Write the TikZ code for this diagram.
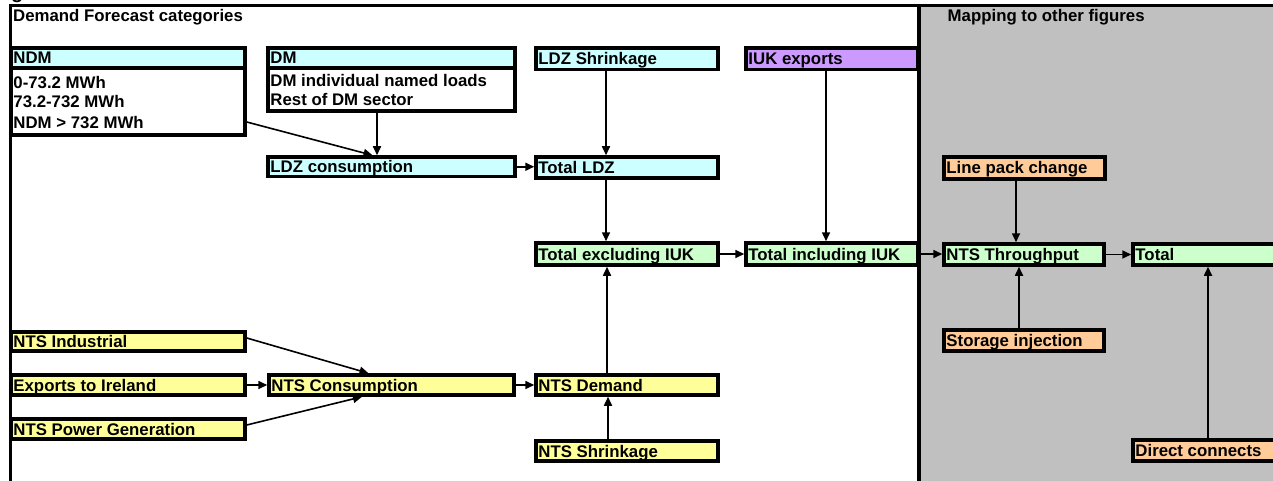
\documentclass[tikz,border=0pt]{standalone}
\usepackage{fontspec}
\setmainfont{Liberation Sans}
\usetikzlibrary{arrows.meta}
\definecolor{cyanF}{HTML}{CCFFFF}
\definecolor{yellowF}{HTML}{FFFF99}
\definecolor{greenF}{HTML}{CCFFCC}
\definecolor{orangeF}{HTML}{FFCC99}
\definecolor{purpleF}{HTML}{CC99FF}
\definecolor{grayF}{HTML}{C0C0C0}
\tikzset{
  bx/.style={draw, line width=3.5pt, inner sep=0pt, rectangle},
  txt/.style={anchor=west, inner sep=0pt, font=\bfseries\fontsize{16.8}{20.5}\selectfont, text height=12pt, text depth=0pt},
  arr/.style={line width=1.6pt, -{Triangle[length=9pt,width=8pt]}},
  frame/.style={line width=3pt}
}
\newcommand\mkbox[7]{%
  \node[bx, fill=#6, minimum width={#4-#2}, minimum height={#5-#3}] (#1) at ({(#2+#4)/2},{(#3+#5)/2}) {};
  \node[txt] (#1t) at ([xshift=4pt]#1.west) {#7};}
\begin{document}
\begin{tikzpicture}[x=1pt,y=-1pt]
\useasboundingbox (0,0) rectangle (1273,481);
\clip (0,0) rectangle (1273,481);
% gray region
\fill[grayF] (918,5) rectangle (1290,490);
% partial title glyph
\node[anchor=base west, inner sep=0pt, font=\bfseries\fontsize{20}{24}\selectfont] (ttl) at (11,-1.2) {g};
% headings
\node[txt] (hleft) at (13,15.7) {Demand Forecast categories};
\node[txt] (hright) at (947.5,15.5) {Mapping to other figures};
% boxes
\mkbox{ndmh}{11}{48}{245}{68}{cyanF}{NDM}
\mkbox{ndmb}{11}{68}{245}{135}{white}{}
\node[txt] (ndm1) at ([xshift=4pt,yshift=-16pt]ndmb.north west) {0-73.2 MWh};
\node[txt] (ndm2) at ([xshift=4pt,yshift=-35.5pt]ndmb.north west) {73.2-732 MWh};
\node[txt] (ndm3) at ([xshift=4pt,yshift=-56.5pt]ndmb.north west) {NDM > 732 MWh};
\mkbox{dmh}{268}{48}{515}{68}{cyanF}{DM}
\mkbox{dmb}{268}{68}{515}{111}{white}{}
\node[txt] (dm1) at ([xshift=4pt,yshift=-14.2pt]dmb.north west) {DM individual named loads};
\node[txt] (dm2) at ([xshift=4pt,yshift=-33pt]dmb.north west) {Rest of DM sector};
\mkbox{ldzc}{268}{157}{515}{176.5}{cyanF}{LDZ consumption}
\mkbox{ldzs}{536}{48}{718}{69.5}{cyanF}{LDZ Shrinkage}
\mkbox{iuk}{746}{48}{918}{69.5}{purpleF}{IUK exports}
\mkbox{tldz}{536}{157}{718}{178}{cyanF}{Total LDZ}
\mkbox{texc}{536}{243}{718}{265}{greenF}{Total excluding IUK}
\mkbox{tinc}{746}{243}{918}{265}{greenF}{Total including IUK}
\mkbox{ntst}{944}{244}{1104}{265}{greenF}{NTS Throughput}
\mkbox{tot}{1133}{244}{1290}{265}{greenF}{Total}
\mkbox{lpc}{944}{157}{1105}{179}{orangeF}{Line pack change}
\mkbox{stor}{944}{330}{1104}{351}{orangeF}{Storage injection}
\mkbox{dirc}{1133}{440}{1290}{461}{orangeF}{Direct connects}
\mkbox{nind}{11}{332}{245}{351}{yellowF}{NTS Industrial}
\mkbox{exir}{11}{375}{245}{395}{yellowF}{Exports to Ireland}
\mkbox{npg}{11}{419}{245}{439}{yellowF}{NTS Power Generation}
\mkbox{ncons}{269}{375}{514}{395}{yellowF}{NTS Consumption}
\mkbox{ndem}{536}{375}{718}{395}{yellowF}{NTS Demand}
\mkbox{nshr}{536}{441}{718}{461}{yellowF}{NTS Shrinkage}
% frame lines
\draw[frame] (10.7,490) -- (10.7,5.3) -- (1290,5.3);
\draw[line width=4pt] (918.7,5) -- (918.7,490);
% helper x positions
\coordinate (c1) at (377,0);
\coordinate (c2) at (606,0);
\coordinate (c3) at (826,0);
\coordinate (c4) at (1016,0);
\coordinate (c5) at (1019,0);
\coordinate (c6) at (1208,0);
\coordinate (c7) at (607,0);
\coordinate (c8) at (608,0);
% connectors
\draw[arr] ([yshift=-20.5pt]ndmb.east) -- ([xshift=-19pt]ldzc.north);
\draw[arr] (dmb.south -| c1) -- (ldzc.north -| c1);
\draw[arr] (ldzc.east) -- (ldzc.east -| tldz.west);
\draw[arr] (ldzs.south -| c2) -- (tldz.north -| c2);
\draw[arr] (tldz.south -| c2) -- (texc.north -| c2);
\draw[arr] (iuk.south -| c3) -- (tinc.north -| c3);
\draw[arr] (texc.east) -- (texc.east -| tinc.west);
\draw[arr] (tinc.east) -- (tinc.east -| ntst.west);
\draw[arr] (lpc.south -| c4) -- (ntst.north -| c4);
\draw[arr] (stor.north -| c5) -- (ntst.south -| c5);
\draw[arr] (ntst.east) -- (ntst.east -| tot.west);
\draw[arr] (dirc.north -| c6) -- (tot.south -| c6);
\draw[arr] ([yshift=3.5pt]nind.east) -- ([xshift=-23pt]ncons.north);
\draw[arr] (exir.east) -- (exir.east -| ncons.west);
\draw[arr] ([yshift=4pt]npg.east) -- ([xshift=-29.5pt]ncons.south);
\draw[arr] (ncons.east) -- (ncons.east -| ndem.west);
\draw[arr] (nshr.north -| c8) -- (ndem.south -| c8);
\draw[arr] (ndem.north -| c7) -- (texc.south -| c7);
\end{tikzpicture}
\end{document}
